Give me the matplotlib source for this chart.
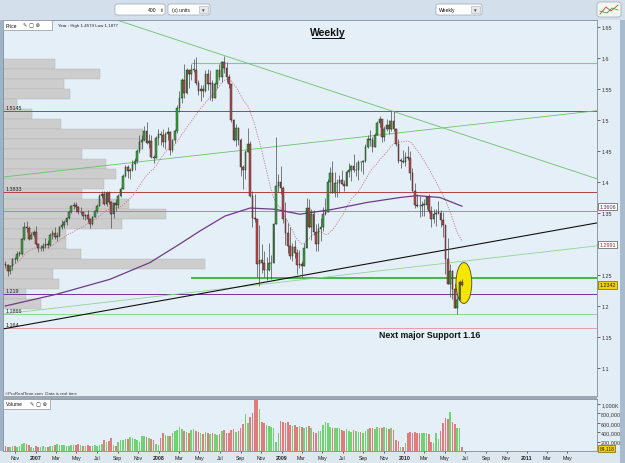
import matplotlib
matplotlib.use("Agg")
import matplotlib.pyplot as plt
import matplotlib.dates as mdates
import matplotlib.transforms as mtransforms
from matplotlib.patches import Rectangle, Ellipse, FancyBboxPatch
import numpy as np
import pandas as pd

plt.rcParams['font.family'] = ['Liberation Sans', 'DejaVu Sans']

# weekly EUR/USD candles, first week starts 2 Oct 2006
first_week = "2006-10-02"
first_open = 1.2680
closes = [
    1.2660, 1.2570, 1.2640, 1.2760, 1.2750, 1.2840, 1.2840, 1.3080, 1.3280,
    1.3260, 1.3080, 1.3140, 1.3200,
    1.3000, 1.2930, 1.2940, 1.2960, 1.3000, 1.2990, 1.3140, 1.3170, 1.3120,
    1.3130, 1.3270, 1.3310, 1.3350, 1.3420, 1.3520, 1.3620, 1.3630, 1.3600,
    1.3510, 1.3510, 1.3450, 1.3470, 1.3410, 1.3330, 1.3440, 1.3540,
    1.3620, 1.3780, 1.3810, 1.3650, 1.3830, 1.3680, 1.3490, 1.3660, 1.3630,
    1.3780, 1.3890, 1.4090, 1.4240, 1.4180, 1.4190, 1.4290, 1.4340, 1.4500,
    1.4650, 1.4680, 1.4830, 1.4630, 1.4660, 1.4400, 1.4380, 1.4710, 1.4770,
    1.4760, 1.4640, 1.4780, 1.4810, 1.4510, 1.4680, 1.4830, 1.5190,
    1.5360, 1.5640, 1.5430, 1.5800, 1.5750, 1.5810, 1.5810, 1.5600, 1.5470,
    1.5500, 1.5470, 1.5750, 1.5580, 1.5600, 1.5360, 1.5580, 1.5800, 1.5700,
    1.5930, 1.5840, 1.5700, 1.5580, 1.5000, 1.4680, 1.4870, 1.4670,
    1.4240, 1.4190, 1.4480, 1.4620, 1.3780, 1.3420, 1.3400, 1.2680, 1.2740,
    1.2700, 1.2580, 1.2580, 1.2690, 1.2700, 1.3330, 1.3940, 1.4000, 1.3900,
    1.3400, 1.3180, 1.2960, 1.2800, 1.2950, 1.2850, 1.2660, 1.2670,
    1.2640, 1.2940, 1.3580, 1.3280, 1.3480, 1.3200, 1.3000, 1.3240, 1.3280,
    1.3480, 1.3520, 1.4000, 1.4150, 1.3830, 1.3980, 1.3990, 1.4030, 1.3970,
    1.3930, 1.4160, 1.4190, 1.4260, 1.4190, 1.4190, 1.4330, 1.4320, 1.4340,
    1.4570, 1.4700, 1.4680, 1.4560, 1.4760, 1.4950, 1.5020, 1.4720,
    1.4860, 1.4920, 1.4860, 1.4980, 1.4860, 1.4620, 1.4340, 1.4340, 1.4320,
    1.4410, 1.4380, 1.4150, 1.3860, 1.3630, 1.3620, 1.3610, 1.3630,
    1.3630, 1.3760, 1.3530, 1.3410, 1.3480, 1.3500, 1.3500, 1.3380, 1.3300,
    1.2750, 1.2360, 1.2570, 1.2270, 1.1970, 1.2100, 1.2390, 1.2342,
]
highs = [
    1.2730, 1.2680, 1.2660, 1.2780, 1.2790, 1.2890, 1.2880, 1.3100, 1.3360,
    1.3370, 1.3290, 1.3190, 1.3220,
    1.3290, 1.3010, 1.2990, 1.3010, 1.3090, 1.3060, 1.3170, 1.3230, 1.3270,
    1.3200, 1.3290, 1.3390, 1.3390, 1.3440, 1.3540, 1.3630, 1.3680, 1.3680,
    1.3610, 1.3600, 1.3520, 1.3480, 1.3550, 1.3420, 1.3450, 1.3550,
    1.3640, 1.3800, 1.3850, 1.3850, 1.3850, 1.3860, 1.3690, 1.3680, 1.3730,
    1.3800, 1.3920, 1.4130, 1.4280, 1.4280, 1.4230, 1.4350, 1.4380, 1.4530,
    1.4750, 1.4760, 1.4900, 1.4970, 1.4780, 1.4760, 1.4440, 1.4740, 1.4850,
    1.4820, 1.4850, 1.4810, 1.4880, 1.4820, 1.4700, 1.4850, 1.5240,
    1.5460, 1.5680, 1.5900, 1.5840, 1.5810, 1.5910, 1.5980, 1.6020, 1.5640,
    1.5570, 1.5570, 1.5800, 1.5820, 1.5800, 1.5640, 1.5620, 1.5810, 1.5910,
    1.5950, 1.6040, 1.5940, 1.5750, 1.5560, 1.5020, 1.4940, 1.4880,
    1.4710, 1.4280, 1.4510, 1.4870, 1.4660, 1.3850, 1.3800, 1.3410, 1.3300,
    1.3000, 1.2880, 1.2790, 1.3010, 1.2820, 1.3340, 1.4720, 1.4130, 1.4250,
    1.3930, 1.3680, 1.3340, 1.3280, 1.3020, 1.3070, 1.2920, 1.2910,
    1.2730, 1.3010, 1.3740, 1.3730, 1.3560, 1.3550, 1.3330, 1.3340, 1.3420,
    1.3590, 1.3740, 1.4050, 1.4240, 1.4340, 1.4160, 1.4050, 1.4120, 1.4190,
    1.4040, 1.4200, 1.4300, 1.4270, 1.4450, 1.4320, 1.4350, 1.4340, 1.4360,
    1.4620, 1.4750, 1.4840, 1.4720, 1.4790, 1.4980, 1.5060, 1.5010,
    1.4910, 1.5020, 1.5000, 1.5145, 1.5140, 1.4870, 1.4700, 1.4390, 1.4510,
    1.4480, 1.4580, 1.4500, 1.4220, 1.3990, 1.3810, 1.3780, 1.3690,
    1.3730, 1.3780, 1.3810, 1.3610, 1.3570, 1.3570, 1.3690, 1.3550, 1.3520,
    1.3300, 1.3090, 1.2670, 1.2580, 1.2370, 1.2160, 1.2420, 1.2440,
]
lows = [
    1.2610, 1.2480, 1.2510, 1.2580, 1.2690, 1.2720, 1.2800, 1.2830, 1.3070,
    1.3190, 1.3060, 1.3080, 1.3110,
    1.2990, 1.2870, 1.2880, 1.2880, 1.2930, 1.2930, 1.2960, 1.3080, 1.3080,
    1.3050, 1.3110, 1.3240, 1.3250, 1.3310, 1.3400, 1.3500, 1.3560, 1.3510,
    1.3480, 1.3490, 1.3410, 1.3380, 1.3350, 1.3260, 1.3310, 1.3430,
    1.3500, 1.3610, 1.3740, 1.3630, 1.3620, 1.3640, 1.3260, 1.3420, 1.3540,
    1.3580, 1.3760, 1.3880, 1.4080, 1.4060, 1.4050, 1.4170, 1.4190, 1.4310,
    1.4460, 1.4530, 1.4660, 1.4610, 1.4550, 1.4380, 1.4310, 1.4380, 1.4600,
    1.4590, 1.4560, 1.4530, 1.4680, 1.4440, 1.4490, 1.4630, 1.4790,
    1.5130, 1.5280, 1.5350, 1.5420, 1.5520, 1.5640, 1.5780, 1.5560, 1.5410,
    1.5300, 1.5370, 1.5450, 1.5480, 1.5330, 1.5300, 1.5360, 1.5520, 1.5640,
    1.5620, 1.5760, 1.5620, 1.5520, 1.4970, 1.4660, 1.4580, 1.4600,
    1.4100, 1.3880, 1.4050, 1.4480, 1.3750, 1.3270, 1.3350, 1.2460, 1.2330,
    1.2540, 1.2460, 1.2420, 1.2560, 1.2430, 1.2710, 1.3350, 1.3840, 1.3800,
    1.3340, 1.2980, 1.2850, 1.2760, 1.2730, 1.2780, 1.2510, 1.2610,
    1.2460, 1.2690, 1.2960, 1.3260, 1.3070, 1.3150, 1.2890, 1.2890, 1.3050,
    1.3210, 1.3470, 1.3510, 1.3820, 1.3830, 1.3750, 1.3750, 1.3820, 1.3960,
    1.3860, 1.3960, 1.4080, 1.4010, 1.4160, 1.4090, 1.4040, 1.4170, 1.4130,
    1.4320, 1.4550, 1.4580, 1.4480, 1.4590, 1.4750, 1.4880, 1.4640,
    1.4660, 1.4830, 1.4780, 1.4830, 1.4820, 1.4580, 1.4300, 1.4220, 1.4300,
    1.4260, 1.4350, 1.4030, 1.3850, 1.3580, 1.3600, 1.3440, 1.3450,
    1.3450, 1.3560, 1.3500, 1.3270, 1.3340, 1.3290, 1.3480, 1.3280, 1.3110,
    1.2520, 1.2350, 1.2140, 1.2110, 1.1960, 1.1877, 1.2090, 1.2330,
]
# weekly volume, thousands
volumes_k = [
    100, 95, 90, 105, 100, 95, 110, 140, 165, 150, 120, 90, 70,
    100, 95, 90, 100, 95, 95, 100, 110, 130, 140, 135, 120, 125,
    110, 115, 120, 125, 135, 150, 125, 115, 110, 120, 115, 110, 125,
    110, 120, 140, 230, 200, 210, 270, 120, 115, 200, 230, 240, 250,
    260, 300, 280, 260, 230, 200, 330, 320, 300, 280, 250, 240, 150, 130,
    270, 380, 350, 320, 310, 380, 420, 450, 520, 460, 430, 400, 380,
    440, 470, 430, 400, 380, 370, 410, 390, 370, 390, 360, 340, 370,
    420, 450, 390, 380, 440, 470, 410, 430, 500, 580, 780, 600, 720,
    800, 1090, 1080, 900, 620, 600, 560, 530, 520, 480, 200, 380, 630,
    610, 600, 610, 560, 540, 550, 520, 530, 510, 500, 520, 530, 500,
    400, 390, 420, 430, 560, 620, 590, 520, 500, 490, 500, 480, 450,
    430, 460, 420, 410, 440, 420, 400, 410, 390, 430, 460, 500, 480,
    470, 510, 500, 480, 520, 500, 470, 480, 450, 230, 210, 90, 90,
    180, 390, 400, 390, 400, 380, 390, 390, 390, 380, 370, 190, 180,
    375, 256, 430, 607, 705, 677, 832, 620, 572, 500, 500, 84,
]

# volume-at-price profile on the left
profile_prices = [1.5903, 1.5742, 1.5581, 1.5419, 1.5258, 1.5097, 1.4935,
                  1.4774, 1.4613, 1.4452, 1.4290, 1.4129, 1.3968, 1.3806,
                  1.3645, 1.3484, 1.3323, 1.3161, 1.3000, 1.2839, 1.2677,
                  1.2516, 1.2355, 1.2194, 1.2032]
profile_volume = [52, 97, 61, 67, 14, 29, 58, 140, 140, 79, 103, 113, 101,
                  79, 126, 163, 119, 63, 63, 78, 202, 50, 56, 23, 38]

# long moving average (purple)
purple_dates = ["2006-10-02", "2007-03-04", "2007-08-09", "2007-12-06",
                "2008-03-04", "2008-05-03", "2008-07-16", "2008-09-29",
                "2008-12-12", "2009-02-24", "2009-06-03", "2009-09-12",
                "2009-12-19", "2010-02-08", "2010-04-17", "2010-06-21"]
purple_vals = [1.200, 1.219, 1.243, 1.270, 1.300, 1.321, 1.345, 1.358,
               1.356, 1.348, 1.356, 1.367, 1.375, 1.378, 1.375, 1.361]

# horizontal levels
level_prices = [1.5145, 1.3833, 1.3540, 1.2190, 1.1866, 1.1640]
level_labels = ["1.5145", "1.3833", "", "1.219", "1.1866", "1.164"]
green_top_level = 1.592
support_level = 1.2456
partial_start = "2008-04-05"

# trendlines (two points each)
down_line = [("2008-07-15", 1.6038), ("2009-11-25", 1.5145)]
mid_line = [("2006-09-25", 1.408), ("2011-07-28", 1.515)]
low_line = [("2006-09-25", 1.187), ("2011-07-28", 1.297)]
black_line = [("2006-09-25", 1.163), ("2011-07-28", 1.334)]

W, H = 625, 464
fig = plt.figure(figsize=(W / 100, H / 100), dpi=100, facecolor='#d3dfeb')


def px_rect(x0, y0, x1, y1, z=-1, **kw):
    r = Rectangle((x0 / W, 1 - y1 / H), (x1 - x0) / W, (y1 - y0) / H,
                  transform=fig.transFigure, zorder=z, **kw)
    fig.patches.append(r)
    return r


def px_text(x, y, s, **kw):
    fig.text(x / W, 1 - y / H, s, zorder=6, **kw)


# frame pieces (behind the axes)
px_rect(0, 21, 625, 464, facecolor='#e3edf5', edgecolor='none')
px_rect(620, 21, 625, 464, facecolor='#a9bccd', edgecolor='none')
px_rect(0, 21, 3, 464, facecolor='#9fb3c6', edgecolor='none')
px_rect(0, 452, 620, 464, facecolor='#dce7f0', edgecolor='none')

ax = fig.add_axes([3 / W, 1 - 397 / H, 594 / W, 376 / H])
axv = fig.add_axes([3 / W, 1 - 452 / H, 594 / W, 52 / H], sharex=ax)
for a in (ax, axv):
    a.set_facecolor('#e4eff8')
    for s in a.spines.values():
        s.set_color('#7f8c99')
        s.set_linewidth(0.6)
px_rect(3, 397, 597, 400, z=5, facecolor='#9ea8b2', edgecolor='none')

dates = pd.date_range(first_week, periods=len(closes), freq="7D")
x = mdates.date2num(dates)
c = np.array(closes)
o = np.array([first_open] + closes[:-1])
h = np.maximum(np.array(highs), np.maximum(o, c))
l = np.minimum(np.array(lows), np.minimum(o, c))
up = c >= o

d2n = lambda s: mdates.date2num(pd.Timestamp(s))

# volume profile
blend = mtransforms.blended_transform_factory(ax.transAxes, ax.transData)
band = 0.01613
for p, v in zip(profile_prices, profile_volume):
    ax.add_patch(Rectangle((0, p - band / 2), v / 594, band * 0.96,
                           transform=blend, facecolor='#cdcdcd',
                           edgecolor='#b4b4b4', lw=0.3, zorder=1))

# horizontal levels
level_colors = ['#bc3c3c', '#b04040', '#5cc05c', '#6a3a8a', '#90d490', '#e3a0a0']
for p, lab, col in zip(level_prices, level_labels, level_colors):
    ax.axhline(p, color=col, lw=0.7, zorder=2)
    if lab:
        ax.text(0.004, p + 0.002, lab, transform=blend, fontsize=3.9,
                color='#222222', va='bottom', ha='left', zorder=6)
ax.hlines(green_top_level, d2n(partial_start), d2n("2011-08-30"),
          color='#80cc80', lw=0.8, zorder=2)
ax.hlines(support_level, d2n(partial_start), d2n("2011-08-30"),
          color='#36b436', lw=1.3, zorder=2)

# trendlines
for pts, col, lw in [(down_line, '#6cc06c', 0.6), (mid_line, '#6cc06c', 0.6),
                     (low_line, '#90d490', 0.6), (black_line, '#111111', 0.8)]:
    ax.axline((d2n(pts[0][0]), pts[0][1]), (d2n(pts[1][0]), pts[1][1]),
              color=col, lw=lw, zorder=2)

# moving averages
sma20 = pd.Series(c).rolling(20, min_periods=1).mean()
ax.plot(x, sma20, color='#c8808f', lw=0.6, ls=(0, (1.6, 1.4)), zorder=3)
ax.plot(mdates.date2num(pd.to_datetime(purple_dates)), purple_vals,
        color='#6e3a86', lw=0.9, zorder=3)

# highlight ellipse around latest candles
ax.add_patch(Ellipse((d2n("2010-06-27"), 1.2371), 47, 0.066,
                     facecolor='#f4e600', edgecolor='#4a4a10', lw=0.6, zorder=3.5))

# candles
ax.vlines(x, l, h, color='#4a4a4a', lw=0.5, zorder=4)
body = np.maximum(np.abs(c - o), 0.0008)
ax.bar(x, body, bottom=np.minimum(o, c), width=4.8,
       color=np.where(up, '#3aa83a', '#c24a4a'), edgecolor='#1a1a1a',
       lw=0.3, zorder=5)

# volume
axv.bar(x, np.array(volumes_k) * 1000, width=4.8,
        color=np.where(up, '#70d270', '#e07c7c'), edgecolor='none', zorder=3)

# axes setup
ax.set_xlim(d2n("2006-09-25"), d2n("2011-07-28"))
ax.set_ylim(1.0548, 1.6613)
ax.yaxis.tick_right()
yt = [1.1, 1.15, 1.2, 1.25, 1.3, 1.35, 1.4, 1.45, 1.5, 1.55, 1.6, 1.65]
ax.set_yticks(yt)
# the 1.3 label sits under the 1.2991 tag in the original
ax.set_yticklabels(['' if v == 1.3 else ('%.2f' % v).rstrip('0') for v in yt])
ax.tick_params(axis='y', labelsize=3.9, length=2, width=0.5, pad=1,
               colors='#333333')
ax.tick_params(axis='x', bottom=False, labelbottom=False)

axv.set_ylim(0, 1109000)
axv.yaxis.tick_right()
axv.set_yticks([200000, 400000, 600000, 800000, 1000000])
axv.set_yticklabels(["200,000", "400,000", "600,000", "800,000", "1,000K"])
axv.tick_params(axis='y', labelsize=3.9, length=2, width=0.5, pad=1,
                colors='#333333')
ticks = pd.date_range("2006-11-01", "2011-05-01", freq="2MS")
axv.set_xticks(mdates.date2num(ticks))
axv.set_xticklabels([str(t.year) if t.month == 1 else t.strftime('%b')
                     for t in ticks])
axv.tick_params(axis='x', labelsize=3.7, length=1.5, width=0.5, pad=1.5,
                colors='#222222')
for t, lab in zip(ticks, axv.get_xticklabels()):
    if t.month == 1:
        lab.set_fontweight('bold')

# value tags on the right
bl = mtransforms.blended_transform_factory(ax.transAxes, ax.transData)
ax.text(1.004, 1.3606, "1.3606", transform=bl, fontsize=3.9, va='center',
        color='#4a2a5a', zorder=7,
        bbox=dict(boxstyle='square,pad=0.25', fc='white', ec='#555555', lw=0.5))
ax.text(1.004, 1.2991, "1.2991", transform=bl, fontsize=3.9, va='center',
        color='#8a3030', zorder=7,
        bbox=dict(boxstyle='square,pad=0.25', fc='white', ec='#555555', lw=0.5))
ax.text(1.004, 1.2342, "1.2342", transform=bl, fontsize=3.9, va='center',
        color='#222222', zorder=7,
        bbox=dict(boxstyle='square,pad=0.25', fc='#f2d000', ec='#806000', lw=0.5))
blv = mtransforms.blended_transform_factory(axv.transAxes, axv.transData)
axv.annotate("84,118", xy=(1.004, 84118), xycoords=blv, xytext=(0, -0.8),
             textcoords='offset points', fontsize=3.6, va='center',
             color='#222222', annotation_clip=False,
             bbox=dict(boxstyle='square,pad=0.2', fc='#f2d000', ec='#806000', lw=0.5))

# annotations
ax.text(0.547, 0.968, "Weekly", transform=ax.transAxes, fontsize=7.5,
        fontweight='bold', ha='center', va='center', color='#111111', zorder=7)
px_rect(312, 39, 345, 39.7, z=6, facecolor='#111111', edgecolor='none')
ax.text(d2n("2010-03-18"), 1.1546, "Next major Support 1.16", fontsize=6.3,
        fontweight='bold', ha='center', va='center', color='#111111', zorder=7)
px_text(5, 394, "©ProRealTime.com  Data is real time", fontsize=3.2,
        color='#333333', va='center')

# panel headers
px_rect(3, 21, 52, 31, z=5, facecolor='white', edgecolor='#8a96a2', lw=0.5)
px_text(6, 26, "Price", fontsize=3.6, va='center', color='#111111')
px_text(23, 26, "✎ ▢ ⊗", fontsize=3.8, va='center', color='#333333',
        family=['DejaVu Sans'])
px_text(58, 26, "Year : High 1.4579 Low 1.1877", fontsize=3.2, va='center',
        color='#222222')
px_rect(3, 400, 50, 410, z=5, facecolor='white', edgecolor='#8a96a2', lw=0.5)
px_text(6, 405, "Volume", fontsize=3.6, va='center', color='#111111')
px_text(30, 405, "✎ ▢ ⊗", fontsize=3.8, va='center', color='#333333',
        family=['DejaVu Sans'])


# toolbar
def widget(x0, x1, label, lx, arrow):
    fig.patches.append(FancyBboxPatch((x0 / W, 1 - 16 / H), (x1 - x0) / W, 11 / H,
                                      boxstyle='round,pad=0,rounding_size=0.004',
                                      transform=fig.transFigure, fc='white',
                                      ec='#9aa6b2', lw=0.5))
    px_text(lx, 10.5, label, fontsize=3.6, va='center', color='#111111')
    if arrow:
        px_rect(x1 - 11, 7, x1 - 2, 14, z=2, facecolor='#e4e8ec',
                edgecolor='#a8b0b8', lw=0.4)
        px_text(x1 - 6.5, 10.5, "▾", fontsize=3.6, va='center', ha='center',
                color='#333333', family=['DejaVu Sans'])


widget(115, 165, "", 0, False)
px_text(156, 10.5, "400", fontsize=3.6, va='center', ha='right', color='#111111')
px_text(161, 10.5, "⬍", fontsize=3.4, va='center', ha='center', color='#666666',
        family=['DejaVu Sans'])
widget(168, 210, "(x) units", 172, True)
widget(436, 482, "Weekly", 439, True)
fig.patches.append(FancyBboxPatch((597 / W, 1 - 18 / H), 24 / W, 15 / H,
                                  boxstyle='round,pad=0,rounding_size=0.005',
                                  transform=fig.transFigure, fc='#f4f6f0',
                                  ec='#9aa6b2', lw=0.5))
fig.lines.append(plt.Line2D([600 / W, 606 / W, 611 / W, 618 / W],
                            [1 - 15 / H, 1 - 8 / H, 1 - 12 / H, 1 - 6 / H],
                            transform=fig.transFigure, color='#d04040', lw=0.6))
fig.lines.append(plt.Line2D([600 / W, 607 / W, 612 / W, 618 / W],
                            [1 - 12 / H, 1 - 14 / H, 1 - 9 / H, 1 - 11 / H],
                            transform=fig.transFigure, color='#40a040', lw=0.6))

fig.savefig("out.png", dpi=100, facecolor=fig.get_facecolor())
